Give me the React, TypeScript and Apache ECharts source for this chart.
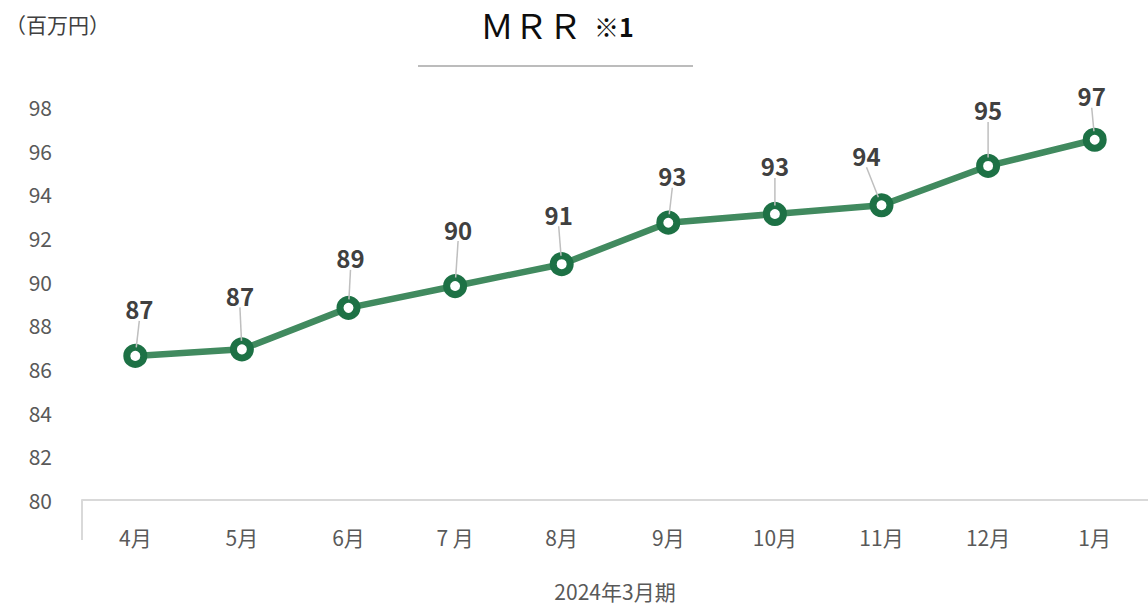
import React, { useEffect, useRef } from "react";
import * as echarts from "echarts";

const months = ["4月", "5月", "6月", "7 月", "8月", "9月", "10月", "11月", "12月", "1月"];
const mrr = [86.6, 86.9, 88.8, 89.8, 90.8, 92.7, 93.1, 93.5, 95.3, 96.5];
const yMin = 80;
const yMax = 98;
const yStep = 2;

// label offsets (layout only), relative to each point
const labelShift: [number, number][] = [
  [4, -47], [-2, -54], [2, -50], [3, -57], [-3, -50],
  [4, -47], [0, -48], [-15, -50], [0, -56], [-3, -44],
];

const FONT = "'Noto Sans CJK JP', 'Noto Sans', sans-serif";

export default function App() {
  const ref = useRef<HTMLDivElement>(null);
  useEffect(() => {
    if (!ref.current) return;
    const chart = echarts.init(ref.current, undefined, { renderer: "svg" });
    chart.setOption({
      animation: false,
      backgroundColor: "#ffffff",
      textStyle: { fontFamily: FONT },
      graphic: [
        {
          type: "text",
          x: 480,
          y: 24,
          style: {
            text: "{a|ＭＲＲ}{b|※1}",
            verticalAlign: "middle",
            rich: {
              a: { fontSize: 34, lineHeight: 40, fill: "#0d0d0d", fontFamily: FONT },
              b: { fontSize: 25, lineHeight: 40, fill: "#0d0d0d", fontFamily: FONT, fontWeight: "bold", padding: [4, 0, 0, 12] },
            },
          },
        },
        {
          type: "line",
          shape: { x1: 418, y1: 66, x2: 693, y2: 66 },
          style: { stroke: "#a6a6a6", lineWidth: 1.5 },
        },
        {
          type: "line",
          shape: { x1: 82, y1: 500, x2: 82, y2: 540 },
          style: { stroke: "#d9d9d9", lineWidth: 2 },
        },
        {
          type: "text",
          left: 5,
          top: 13,
          style: { text: "（百万円）", fontSize: 21, fill: "#404040", fontFamily: FONT },
        },
      ],
      grid: { left: 82, right: 0, top: 107, bottom: 106 },
      xAxis: {
        type: "category",
        data: months,
        boundaryGap: true,
        name: "2024年3月期",
        nameLocation: "middle",
        nameGap: 80,
        nameTextStyle: { fontSize: 21, color: "#595959", fontFamily: FONT },
        axisLine: { lineStyle: { color: "#d9d9d9", width: 2 } },
        axisTick: { show: false },
        axisLabel: { fontSize: 21, color: "#595959", margin: 26, fontFamily: FONT },
        splitLine: { show: false },
      },
      yAxis: {
        type: "value",
        min: yMin,
        max: yMax,
        interval: yStep,
        axisLine: { show: false },
        axisTick: { show: false },
        splitLine: { show: false },
        axisLabel: { fontSize: 21, color: "#595959", margin: 30, fontFamily: FONT },
      },
      series: [
        {
          type: "line",
          data: mrr,
          symbol: "circle",
          symbolSize: 17,
          itemStyle: { color: "#ffffff", borderColor: "#1d7145", borderWidth: 7 },
          lineStyle: { color: "#418a5f", width: 6.5 },
          label: {
            show: true,
            position: "inside",
            formatter: (p: any) => String(Math.round(p.value)),
            fontSize: 24,
            fontWeight: "bold",
            color: "#404040",
            fontFamily: FONT,
          },
          labelLine: {
            show: true,
            showAbove: true,
            lineStyle: { color: "#bfbfbf", width: 1.5 },
          },
          labelLayout: (p: any) => {
            const s = labelShift[p.dataIndex] || [0, -50];
            return { dx: s[0], dy: s[1] };
          },
        },
      ],
    });
    return () => chart.dispose();
  }, []);
  return (
    <div
      ref={ref}
      style={{ position: "fixed", left: 0, top: 0, width: 1148, height: 606, background: "#fff" }}
    />
  );
}
